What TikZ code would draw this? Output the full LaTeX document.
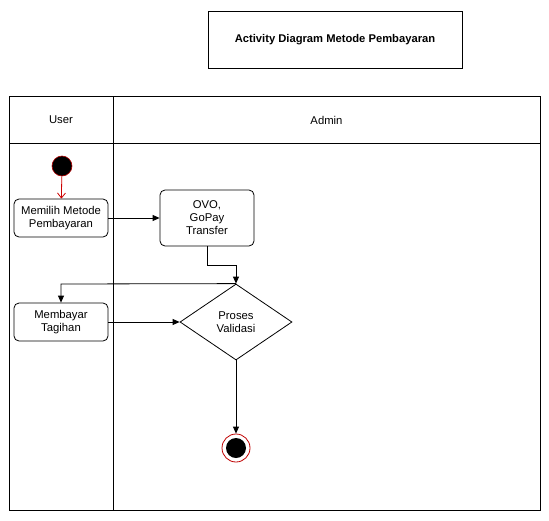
\documentclass[tikz,border=0pt]{standalone}
\usepackage{fontspec}
\setmainfont{Liberation Sans}
\usetikzlibrary{shapes.geometric,arrows.meta}
\begin{document}
\begin{tikzpicture}[x=1pt,y=-1pt,
  lane/.style={draw=black,line width=0.8pt},
  actbox/.style={draw=black,line width=0.8pt,rounded corners=5pt,align=center,inner sep=0pt},
  flow/.style={draw=black,line width=0.8pt,-{Triangle[length=7pt,width=6pt]}},
  txt/.style={font=\fontsize{11.3}{13}\selectfont,align=center}]
\useasboundingbox (0,0) rectangle (549,520);
% title
\node[draw=black,line width=0.8pt,minimum width=254pt,minimum height=57pt,inner sep=0pt,font=\fontsize{11.2}{12}\selectfont\bfseries] (title) at (335,39.5) {Activity Diagram Metode Pembayaran};
% swimlanes
\draw[lane] (9,96) rectangle (540,510);
\draw[lane] (9,143) -- (540,143);
\draw[lane] (113,96) -- (113,510);
\node[txt] (user) at (61,120) {User};
\node[txt] (admin) at (326.5,120) {Admin};
% start
\node[circle,fill=black,draw=red!70!black,line width=0.6pt,minimum size=20pt,inner sep=0pt] (start) at (62,166) {};
% activities
\node[actbox,txt,minimum width=94pt,minimum height=38pt] (pilih) at (61,218) {Memilih Metode\\Pembayaran};
\node[actbox,txt,minimum width=94pt,minimum height=56pt] (ovo) at (207,218) {OVO,\\GoPay\\Transfer};
\node[actbox,txt,minimum width=94pt,minimum height=38pt] (bayar) at (61,322) {Membayar\\Tagihan};
\node[diamond,draw=black,line width=0.8pt,minimum width=112pt,minimum height=76pt,inner sep=0pt,aspect=1.47,txt] (valid) at (236,322) {};
\node[txt] (validtxt) at (236,322) {Proses\\Validasi};
% end
\node[circle,draw=red!75!black,line width=0.8pt,minimum size=28pt,inner sep=0pt] (end) at (236,448) {};
\node[circle,fill=black,minimum size=20pt,inner sep=0pt] (endin) at (236,448) {};
% connectors
\draw[draw=red!80!black,line width=0.8pt,-{Straight Barb[length=5pt,width=8pt]}] (start) -- (pilih);
\draw[flow] (pilih) -- (ovo);
\coordinate (c1) at (207,265);
\coordinate (c2) at (236,265);
\draw[flow] (ovo.south) -- (c1) -- (c2) -- (valid.north);
\coordinate (c3) at (61,284);
\draw[flow] (valid.north) -- (c3) -- (bayar.north);
\draw[flow] (bayar) -- (valid.west);
\draw[flow] (valid.south) -- (end.north);
\end{tikzpicture}
\end{document}
